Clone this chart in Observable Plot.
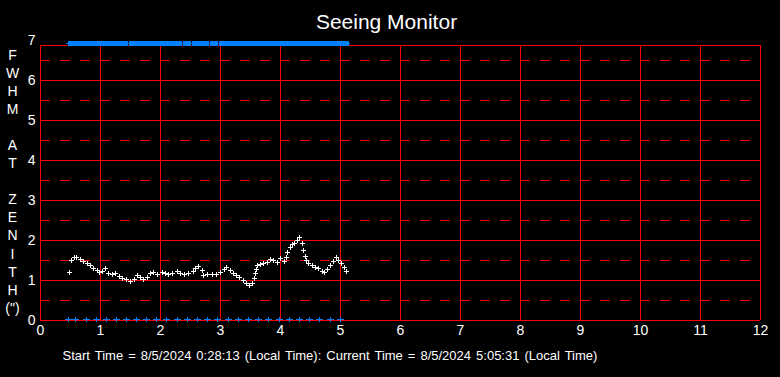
<!DOCTYPE html>
<html><head><meta charset="utf-8">
<script src="https://cdn.jsdelivr.net/npm/d3@7"></script>
<script src="https://cdn.jsdelivr.net/npm/@observablehq/plot@0.6"></script>
<style>html,body{margin:0;padding:0;background:#000;overflow:hidden;}
.footer text{word-spacing:1.4px;}</style>
</head><body><div id="chart"></div>
<script>
const title = "Seeing Monitor";
const yLabelLetters = ["F","W","H","M","","A","T","","Z","E","N","I","T","H","(\")"];
const footer = "Start Time = 8/5/2024 0:28:13 (Local Time): Current Time = 8/5/2024 5:05:31 (Local Time)";
const xTicks = [0,1,2,3,4,5,6,7,8,9,10,11,12];
const yTicks = [0,1,2,3,4,5,6,7];
const yHalfTicks = [0.5,1.5,2.5,3.5,4.5,5.5,6.5];

// FWHM measurements (hours since start of night, arcsec)
const hours = [0.49,0.51,0.56,0.60,0.66,0.71,0.78,0.83,0.89,0.95,0.99,1.03,1.08,1.14,1.20,1.25,1.31,1.36,1.43,1.50,
  1.56,1.61,1.67,1.72,1.78,1.83,1.89,1.95,2.03,2.08,2.14,2.20,2.28,2.33,2.40,2.47,2.55,2.58,2.64,2.70,
  2.72,2.78,2.86,2.93,3.00,3.06,3.10,3.16,3.21,3.27,3.32,3.38,3.43,3.49,3.53,3.56,3.58,3.60,3.62,3.67,
  3.72,3.78,3.83,3.89,3.95,4.00,4.06,4.10,4.12,4.16,4.20,4.24,4.28,4.32,4.36,4.39,4.41,4.43,4.47,4.53,
  4.58,4.64,4.70,4.73,4.78,4.83,4.89,4.93,4.97,5.01,5.06,5.10];
const fwhm = [1.21,1.50,1.57,1.58,1.52,1.48,1.43,1.38,1.31,1.25,1.19,1.23,1.29,1.17,1.14,1.17,1.10,1.04,1.02,0.98,
  1.02,1.13,1.08,1.03,1.08,1.17,1.19,1.15,1.21,1.17,1.14,1.18,1.23,1.18,1.14,1.18,1.23,1.29,1.36,1.25,
  1.13,1.15,1.14,1.14,1.21,1.27,1.32,1.25,1.18,1.13,1.07,1.00,0.93,0.88,0.93,1.04,1.17,1.27,1.38,1.40,
  1.43,1.46,1.52,1.50,1.46,1.54,1.48,1.58,1.71,1.83,1.89,1.92,2.00,2.07,1.93,1.75,1.60,1.50,1.42,1.38,
  1.33,1.29,1.23,1.21,1.27,1.38,1.48,1.57,1.50,1.42,1.32,1.23];
// Out-of-range flag markers drawn at the top of the scale
const topFlagValue = 7;
// Bottom markers (hours)
const markHours = [0.47,0.59,0.77,0.93,1.10,1.27,1.43,1.60,1.77,1.93,2.10,2.28,2.45,2.62,2.78,2.95,3.13,3.30,3.47,3.63,3.80,3.98,4.15,4.32,4.48,4.65,4.83,5.00];
const markValue = 0;

const frameTop = 6.875;
const seeing = hours.map((t, i) => ({t, v: fwhm[i]}));
const topFlags = hours.map(t => ({t, v: topFlagValue}));
const marks0 = markHours.map(t => ({t, v: markValue}));

const plusSmall = {draw(ctx){ctx.moveTo(-2.5,0);ctx.lineTo(2.5,0);ctx.moveTo(0,-2.5);ctx.lineTo(0,2.5);}};
const plusWide = {draw(ctx){ctx.moveTo(-3.5,0);ctx.lineTo(3.5,0);ctx.moveTo(0,-2.5);ctx.lineTo(0,2.5);}};
const plusBlock = {draw(ctx){ctx.moveTo(-3.5,0);ctx.lineTo(3.5,0);ctx.moveTo(-1.5,-2);ctx.lineTo(1.5,-2);ctx.lineTo(1.5,2);ctx.lineTo(-1.5,2);ctx.closePath();}};

const red = "#ff0000", blue = "#0080ff";

const chart = Plot.plot({
  width: 780, height: 377,
  marginLeft: 40, marginRight: 20, marginTop: 40, marginBottom: 57,
  x: {domain: [0, 12], label: null},
  y: {domain: [0, 7], label: null},
  style: {background: "#000", color: "#fff", fontFamily: "'Liberation Sans', Arial, sans-serif", fontSize: "14px"},
  marks: [
    Plot.ruleX(xTicks, {x: d => d, y1: 0, y2: frameTop, stroke: red, strokeWidth: 1}),
    Plot.ruleY(yTicks.filter(v => v < frameTop).concat([frameTop]), {y: d => d, x1: 0, x2: 12, stroke: red, strokeWidth: 1}),
    Plot.ruleY(yHalfTicks, {y: d => d, x1: 0, x2: 12, stroke: red, strokeWidth: 1, strokeDasharray: "10,10"}),
    Plot.axisX(xTicks, {tickSize: 0, tickPadding: 5, fontSize: 14, fill: "#fff", label: null}),
    Plot.axisY(yTicks, {tickSize: 0, tickPadding: 5, fontSize: 14, fill: "#fff", label: null}),
    Plot.dot(topFlags, {x: "t", y: "v", symbol: plusBlock, r: 3, fill: blue, stroke: blue, strokeWidth: 1, dy: 2.5, shapeRendering: "crispEdges"}),
    Plot.dot(marks0, {x: "t", y: "v", symbol: plusWide, r: 3, fill: "none", stroke: blue, strokeWidth: 1, dy: -1.5, shapeRendering: "crispEdges"}),
    Plot.dot(seeing, {x: "t", y: "v", symbol: plusSmall, r: 3, fill: "none", stroke: "#fff", strokeWidth: 1, shapeRendering: "crispEdges"}),
    Plot.text([title], {text: d => d, frameAnchor: "top", dx: -14, dy: -12, lineAnchor: "bottom", fontSize: 21, fill: "#fff"}),
    Plot.text([yLabelLetters.map(s => s || "\u00a0").join("\n")], {text: d => d, frameAnchor: "left", dx: -28, textAnchor: "middle", lineAnchor: "middle", lineHeight: 18.07/14, fontSize: 14, fill: "#fff"}),
    Plot.text([footer], {text: d => d, frameAnchor: "bottom-left", dx: 22, dy: 35, textAnchor: "start", lineAnchor: "middle", fontSize: 13, fill: "#fff", className: "footer"})
  ]
});
document.getElementById("chart").appendChild(chart);
</script>
</body></html>
